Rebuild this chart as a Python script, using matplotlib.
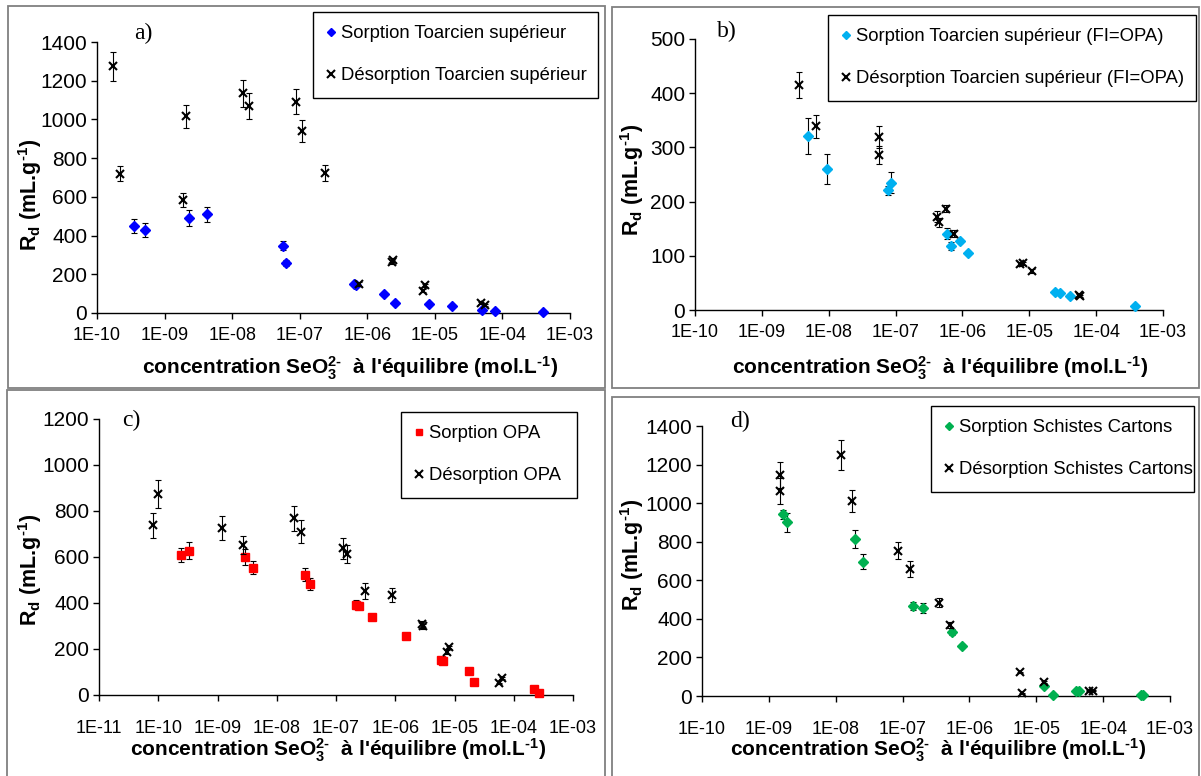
import matplotlib
matplotlib.use("Agg")
import matplotlib.pyplot as plt
from matplotlib.lines import Line2D
from matplotlib.patches import Rectangle

plt.rcParams['font.family'] = ['Liberation Sans', 'DejaVu Sans']
plt.rcParams['mathtext.fontset'] = 'custom'
plt.rcParams['mathtext.rm'] = 'Liberation Sans:bold'
plt.rcParams['mathtext.it'] = 'Liberation Sans:bold'
plt.rcParams['mathtext.bf'] = 'Liberation Sans:bold'
plt.rcParams['mathtext.default'] = 'rm'

# ---------------- data ----------------
# a) Toarcien supérieur
a_sorp_x = [3.5e-10, 5.2e-10, 2.3e-9, 4.2e-9, 5.7e-8, 6.2e-8, 6.4e-7, 6.8e-7, 1.78e-6, 2.6e-6, 8.1e-6, 1.8e-5, 5.0e-5, 7.7e-5, 4.0e-4]
a_sorp_y = [450, 430, 491, 510, 348, 258, 150, 143, 98, 53, 48, 34, 15, 8, 5]
a_sorp_e = [35, 35, 40, 40, 22, 15, 5, 5, 5, 5, 5, 3, 3, 2, 2]
a_des_x = [1.74e-10, 2.2e-10, 1.87e-9, 2.1e-9, 1.43e-8, 1.8e-8, 8.8e-8, 1.08e-7, 2.36e-7, 7.6e-7, 2.3e-6, 2.4e-6, 6.6e-6, 7.1e-6, 4.8e-5, 5.5e-5]
a_des_y = [1274, 720, 584, 1016, 1135, 1069, 1092, 940, 723, 150, 265, 272, 114, 143, 53, 43]
a_des_e = [76, 40, 36, 60, 69, 65, 64, 56, 41, 8, 10, 10, 8, 8, 5, 5]

# b) Toarcien supérieur (FI=OPA)
b_sorp_x = [4.9e-9, 9.4e-9, 7.8e-8, 8.4e-8, 5.9e-7, 6.7e-7, 9.1e-7, 1.23e-6, 2.43e-5, 2.86e-5, 4.0e-5, 3.87e-4]
b_sorp_y = [321, 260, 221, 235, 141, 118, 127, 106, 33, 32, 25, 8]
b_sorp_e = [34, 28, 8, 20, 10, 8, 4, 3, 2, 2, 2, 1]
b_des_x = [3.6e-9, 6.5e-9, 5.6e-8, 5.6e-8, 4.1e-7, 4.4e-7, 5.6e-7, 7.5e-7, 7.3e-6, 8.1e-6, 1.08e-5, 5.5e-5, 5.8e-5]
b_des_y = [415, 339, 319, 286, 172, 162, 187, 141, 85, 86, 72, 27, 26]
b_des_e = [24, 21, 20, 17, 10, 8, 6, 6, 3, 3, 3, 2, 2]

# c) OPA
c_sorp_x = [2.42e-10, 3.3e-10, 2.9e-9, 3.9e-9, 3.0e-8, 3.7e-8, 2.2e-7, 2.4e-7, 4.06e-7, 1.52e-6, 5.85e-6, 6.3e-6, 1.73e-5, 2.13e-5, 2.17e-4, 2.67e-4]
c_sorp_y = [609, 628, 601, 554, 523, 483, 393, 388, 339, 258, 152, 150, 106, 58, 26, 10]
c_sorp_e = [29, 38, 35, 30, 29, 25, 20, 15, 15, 8, 8, 5, 3, 3, 2, 2]
c_des_x = [8.1e-11, 9.8e-11, 1.18e-9, 2.66e-9, 1.95e-8, 2.56e-8, 1.3e-7, 1.51e-7, 3.05e-7, 8.9e-7, 2.86e-6, 2.9e-6, 8.2e-6, 7.5e-6, 6.25e-5, 5.7e-5]
c_des_y = [738, 873, 727, 652, 768, 710, 638, 613, 452, 435, 307, 298, 207, 186, 73, 51]
c_des_e = [54, 60, 51, 40, 54, 49, 46, 40, 34, 30, 15, 12, 8, 8, 4, 3]

# d) Schistes Cartons
d_sorp_x = [1.61e-9, 1.85e-9, 1.94e-8, 2.59e-8, 1.45e-7, 2.04e-7, 5.43e-7, 7.7e-7, 1.32e-5, 1.76e-5, 3.94e-5, 4.4e-5, 3.65e-4, 4.0e-4]
d_sorp_y = [942, 901, 814, 697, 467, 455, 330, 259, 52, 5, 24, 24, 5, 5]
d_sorp_e = [25, 50, 45, 40, 20, 25, 15, 10, 5, 2, 3, 3, 2, 2]
d_des_x = [1.45e-9, 1.45e-9, 1.21e-8, 1.73e-8, 8.5e-8, 1.31e-7, 3.55e-7, 5.07e-7, 5.65e-6, 6.1e-6, 1.3e-5, 6.2e-5, 7.1e-5]
d_des_y = [1146, 1063, 1250, 1011, 753, 658, 484, 370, 123, 14, 74, 28, 28]
d_des_e = [65, 65, 77, 58, 45, 40, 25, 15, 3, 3, 5, 3, 3]

xticklabels_10 = ['1E-10', '1E-09', '1E-08', '1E-07', '1E-06', '1E-05', '1E-04', '1E-03']
xticklabels_11 = ['1E-11'] + xticklabels_10
yticks_1400 = [0, 200, 400, 600, 800, 1000, 1200, 1400]
yticks_500 = [0, 100, 200, 300, 400, 500]
yticks_1200 = [0, 200, 400, 600, 800, 1000, 1200]

legend_a = ['Sorption Toarcien supérieur', 'Désorption Toarcien supérieur']
legend_b = ['Sorption Toarcien supérieur (FI=OPA)', 'Désorption Toarcien supérieur (FI=OPA)']
legend_c = ['Sorption OPA', 'Désorption OPA']
legend_d = ['Sorption Schistes Cartons', 'Désorption Schistes Cartons']

HY = '\u2010'
XLABEL = "concentration SeO$_3^{2" + HY + "}$  à l'équilibre (mol.L$^{" + HY + "1}$)"
YLABEL = "R$_d$ (mL.g$^{" + HY + "1}$)"

W, H = 1201, 776
fig = plt.figure(figsize=(W / 100, H / 100), dpi=100)


def fx(px):
    return px / W


def fy(py):
    return 1 - py / H


# panel frames (pixel boxes: left, top, right, bottom)
frames = [(8, 6, 605, 388), (612, 7, 1199, 388), (7, 390, 605, 778), (612, 397, 1199, 778)]
for l, t, r, b in frames:
    fig.add_artist(Rectangle((fx(l), fy(b)), fx(r - l), (b - t) / H, transform=fig.transFigure,
                             fill=False, edgecolor='#808080', linewidth=1.3))

panels = [
    dict(box=(97, 42, 570, 313), ylim=1400, yticks=yticks_1400, xlabels=xticklabels_10,
         sx=a_sorp_x, sy=a_sorp_y, se=a_sorp_e, dx=a_des_x, dy=a_des_y, de=a_des_e,
         color='#0000FF', marker='D', ms=5.6, leg=legend_a, letter='a)', letter_pos=(143, 33),
         legbox=(313, 12, 598, 107), ylab=(30, 195), xlab=(350, 368), xpad=6),
    dict(box=(695, 39, 1163, 310), ylim=500, yticks=yticks_500, xlabels=xticklabels_10,
         sx=b_sorp_x, sy=b_sorp_y, se=b_sorp_e, dx=b_des_x, dy=b_des_y, de=b_des_e,
         color='#00B0F0', marker='D', ms=5.6, leg=legend_b, letter='b)', letter_pos=(727, 31),
         legbox=(828, 15, 1196, 99), ylab=(632, 180), xlab=(940, 368), xpad=6),
    dict(box=(99, 419, 573, 695), ylim=1200, yticks=yticks_1200, xlabels=xticklabels_11,
         sx=c_sorp_x, sy=c_sorp_y, se=c_sorp_e, dx=c_des_x, dy=c_des_y, de=c_des_e,
         color='#FF0000', marker='s', ms=5.8, leg=legend_c, letter='c)', letter_pos=(131, 420),
         legbox=(401, 412, 577, 507), ylab=(30, 570), xlab=(338, 750), xpad=14),
    dict(box=(702, 426, 1170, 696), ylim=1400, yticks=yticks_1400, xlabels=xticklabels_10,
         sx=d_sorp_x, sy=d_sorp_y, se=d_sorp_e, dx=d_des_x, dy=d_des_y, de=d_des_e,
         color='#00B050', marker='D', ms=5.6, leg=legend_d, letter='d)', letter_pos=(740, 421),
         legbox=(931, 406, 1194, 501), ylab=(632, 555), xlab=(938, 750), xpad=14),
]

for p in panels:
    l, t, r, b = p['box']
    ax = fig.add_axes([fx(l), fy(b), fx(r - l), (b - t) / H])
    ax.set_xscale('log')
    ticks = [float(s) for s in p['xlabels']]
    ax.set_xlim(ticks[0], ticks[-1])
    ax.set_ylim(0, p['ylim'])
    ax.set_xticks(ticks, p['xlabels'])
    ax.xaxis.set_minor_locator(matplotlib.ticker.NullLocator())
    ax.set_yticks(p['yticks'])
    for s in ['top', 'right']:
        ax.spines[s].set_visible(False)
    for s in ['left', 'bottom']:
        ax.spines[s].set_linewidth(1.0)
        ax.spines[s].set_color('black')
    ax.tick_params(axis='both', direction='out', length=4, width=1.0, color='black')
    ax.tick_params(axis='y', labelsize=15, pad=3)
    ax.tick_params(axis='x', labelsize=13, pad=p['xpad'])
    ax.patch.set_alpha(0)

    ax.errorbar(p['sx'], p['sy'], yerr=p['se'], fmt='none', ecolor='black', elinewidth=0.8,
                capsize=2.5, capthick=0.8, clip_on=False)
    ax.plot(p['sx'], p['sy'], linestyle='none', marker=p['marker'], ms=p['ms'],
            color=p['color'], mec=p['color'], clip_on=False, zorder=3)
    ax.errorbar(p['dx'], p['dy'], yerr=p['de'], fmt='none', ecolor='black', elinewidth=0.8,
                capsize=2.5, capthick=0.8, clip_on=False, zorder=4)
    ax.plot(p['dx'], p['dy'], linestyle='none', marker='x', ms=6, mew=1.5,
            color='black', clip_on=False, zorder=5)

    ax.set_xlabel(XLABEL, fontsize=15, fontweight='bold')
    ax.xaxis.set_label_coords((p['xlab'][0] - l) / (r - l), (b - p['xlab'][1]) / (b - t))
    ax.xaxis.label.set_va('center')
    ax.set_ylabel(YLABEL, fontsize=15.5, fontweight='bold')
    ax.yaxis.set_label_coords((p['ylab'][0] - l) / (r - l), (b - p['ylab'][1]) / (b - t))
    ax.yaxis.label.set_va('center')

    fig.text(fx(p['letter_pos'][0]), fy(p['letter_pos'][1]), p['letter'],
             family='Liberation Serif', fontsize=17, ha='center', va='center')

    handles = [Line2D([], [], linestyle='none', marker=p['marker'], ms=p['ms'] * 0.8,
                      color=p['color'], mec=p['color']),
               Line2D([], [], linestyle='none', marker='x', ms=5.5, mew=1.5, color='black')]
    ll, lt, lr, lb = p['legbox']
    leg = ax.legend(handles, p['leg'], loc='upper left',
                    bbox_to_anchor=(fx(ll), fy(lt), fx(lr - ll), 0), bbox_transform=fig.transFigure,
                    mode='expand', fontsize=13.3, frameon=True, fancybox=False, edgecolor='black',
                    framealpha=1, handlelength=0.5, handletextpad=0.3, borderpad=0.72,
                    labelspacing=1.35, borderaxespad=0)
    leg.get_frame().set_linewidth(1.0)

fig.savefig('out.png', dpi=100)
